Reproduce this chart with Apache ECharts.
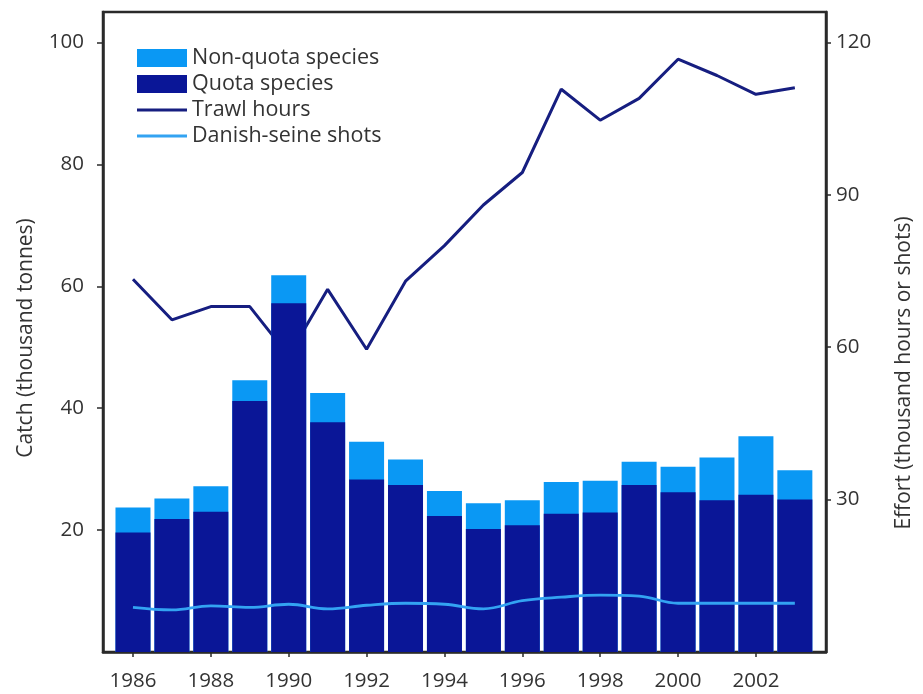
<!DOCTYPE html>
<html>
<head>
<meta charset="utf-8">
<title>Catch and effort</title>
<script src="https://cdn.jsdelivr.net/npm/echarts@6/dist/echarts.min.js"></script>
<style>
  html, body { margin: 0; padding: 0; background: #ffffff; }
  #chart { width: 923px; height: 694px; }
</style>
</head>
<body>
<div id="chart"></div>
<script>
// years on the x axis
const years = [1986, 1987, 1988, 1989, 1990, 1991, 1992, 1993, 1994,
  1995, 1996, 1997, 1998, 1999, 2000, 2001, 2002, 2003];
// catch, thousand tonnes
const quotaCatch = [19.6, 21.8, 23.0, 41.2, 57.2, 37.7, 28.3, 27.4, 22.3,
  20.2, 20.8, 22.7, 22.9, 27.4, 26.2, 24.9, 25.8, 25.0];
const nonQuotaCatch = [4.1, 3.4, 4.2, 3.4, 4.6, 4.8, 6.2, 4.2, 4.1,
  4.2, 4.1, 5.2, 5.2, 3.8, 4.2, 7.0, 9.6, 4.8];
// effort, thousand hours or shots
const trawlHours = [73.4, 65.4, 68.0, 68.0, 58.3, 71.4, 59.6, 73.0, 80.0,
  88.0, 94.4, 110.8, 104.7, 109.0, 116.7, 113.5, 109.8, 111.1];
const seineShots = [8.8, 8.3, 9.1, 8.8, 9.4, 8.5, 9.2, 9.6, 9.4,
  8.5, 10.1, 10.8, 11.2, 11.0, 9.6, 9.6, 9.6, 9.6];
// tick labels
const yearTicks = [1986, 1988, 1990, 1992, 1994, 1996, 1998, 2000, 2002];
const catchTicks = [20, 40, 60, 80, 100];
const effortTicks = [30, 60, 90, 120];

const font = "Open Sans";
const textColor = "#333333";
const frameColor = "#2a2a2a";
// thin bar used as legend icon for the two lines (corner dots keep the box 50x18)
const lineIcon = "path://M0,7.5L50,7.5L50,10.5L0,10.5Z M0,0L0.05,0L0.05,0.05Z M50,18L49.95,18L49.95,17.95Z";

// quota is drawn in front of the whole catch, so the light part shows on top
const totalCatch = quotaCatch.map((q, i) => q + nonQuotaCatch[i]);
const pair = (vals) => years.map((y, i) => [y, vals[i]]);

const chart = echarts.init(document.getElementById("chart"));

const option = {
  backgroundColor: "#ffffff",
  animation: false,
  textStyle: { fontFamily: font },
  grid: {
    left: 103,
    right: 85,
    top: 12,
    bottom: 42,
    show: true,
    borderColor: frameColor,
    borderWidth: 2.5,
    backgroundColor: "transparent",
  },
  legend: {
    orient: "vertical",
    left: 132,
    top: 42,
    itemWidth: 50,
    itemHeight: 18,
    itemGap: 4,
    textStyle: { fontFamily: font, fontSize: 21.5, color: textColor },
    data: [
      { name: "Non-quota species", icon: "rect" },
      { name: "Quota species", icon: "rect" },
      { name: "Trawl hours", icon: lineIcon },
      { name: "Danish-seine shots", icon: lineIcon },
    ],
  },
  xAxis: {
    type: "value",
    min: 1985.23,
    max: 2003.8,
    axisLine: { lineStyle: { color: frameColor, width: 2.5 } },
    axisTick: { show: true, length: 5, customValues: yearTicks, lineStyle: { color: frameColor, width: 1.5 } },
    axisLabel: {
      customValues: yearTicks,
      margin: 19,
      fontFamily: font,
      fontSize: 20.5,
      color: textColor,
      formatter: (v) => String(v),
    },
    splitLine: { show: false },
  },
  yAxis: [
    {
      type: "value",
      min: 0,
      max: 105,
      position: "left",
      name: "Catch (thousand tonnes)",
      nameLocation: "middle",
      nameRotate: 90,
      nameGap: 66,
      nameTextStyle: { fontFamily: font, fontSize: 21, color: textColor, padding: [0, 12, 0, 0] },
      axisLine: { show: true, lineStyle: { color: frameColor, width: 2.5 } },
      axisTick: { show: true, length: 6, customValues: catchTicks, lineStyle: { color: frameColor, width: 1.5 } },
      axisLabel: { customValues: catchTicks, margin: 19, fontFamily: font, fontSize: 20.5, color: textColor },
      splitLine: { show: false },
    },
    {
      type: "value",
      min: 0,
      max: 126,
      position: "right",
      name: "Effort (thousand hours or shots)",
      nameLocation: "middle",
      nameRotate: 90,
      nameGap: 68,
      nameTextStyle: { fontFamily: font, fontSize: 21, color: textColor, padding: [0, 82, 0, 0] },
      axisLine: { show: true, lineStyle: { color: frameColor, width: 2.5 } },
      axisTick: { show: true, length: 5, customValues: effortTicks, lineStyle: { color: frameColor, width: 1.5 } },
      axisLabel: { customValues: effortTicks, margin: 10, fontFamily: font, fontSize: 20.5, color: textColor },
      splitLine: { show: false },
    },
  ],
  series: [
    {
      name: "Non-quota species",
      type: "bar",
      barWidth: 35,
      barGap: "-100%",
      yAxisIndex: 0,
      z: 2,
      itemStyle: { color: "#0a98f4" },
      data: pair(totalCatch),
    },
    {
      name: "Quota species",
      type: "bar",
      barWidth: 35,
      barGap: "-100%",
      yAxisIndex: 0,
      z: 2,
      itemStyle: { color: "#0a1697" },
      data: pair(quotaCatch),
    },
    {
      name: "Trawl hours",
      type: "line",
      yAxisIndex: 1,
      symbol: "none",
      z: 1,
      lineStyle: { color: "#161e80", width: 3 },
      itemStyle: { color: "#161e80" },
      data: pair(trawlHours),
    },
    {
      name: "Danish-seine shots",
      type: "line",
      yAxisIndex: 1,
      symbol: "none",
      smooth: 0.4,
      z: 3,
      lineStyle: { color: "#33a3f2", width: 2.8 },
      itemStyle: { color: "#33a3f2" },
      data: pair(seineShots),
    },
  ],
};

chart.setOption(option);
</script>
</body>
</html>
